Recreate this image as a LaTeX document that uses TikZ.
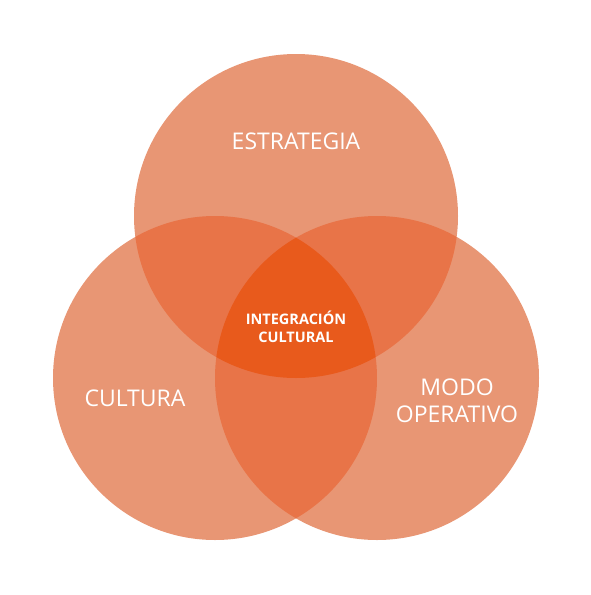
\documentclass[tikz,border=0pt]{standalone}
\usepackage{fontspec}
\setmainfont{Open Sans}
\definecolor{one}{RGB}{232,150,116}
\definecolor{two}{RGB}{232,116,72}
\definecolor{three}{RGB}{232,90,28}
\begin{document}
\begin{tikzpicture}[x=1pt,y=-1pt,
  lbl/.style={text=white,font=\fontsize{23}{27}\selectfont,align=center,inner sep=0pt},
  core/.style={text=white,font=\fontsize{14.5}{18}\selectfont\bfseries,align=center,inner sep=0pt}]
\useasboundingbox (0,0) rectangle (591,595);
\def\R{162}
\coordinate (T) at (296,216);
\coordinate (L) at (215,378);
\coordinate (Rt) at (377,378);
\fill[one] (T) circle (\R);
\fill[one] (L) circle (\R);
\fill[one] (Rt) circle (\R);
\begin{scope}\clip (T) circle (\R); \fill[two] (L) circle (\R); \fill[two] (Rt) circle (\R);\end{scope}
\begin{scope}\clip (L) circle (\R); \fill[two] (Rt) circle (\R);\end{scope}
\begin{scope}\clip (T) circle (\R); \clip (L) circle (\R); \fill[three] (Rt) circle (\R);\end{scope}
\node[lbl] (e) at (296,141) {ESTRATEGIA};
\node[lbl] (c) at (135,398) {CULTURA};
\node[lbl] (m) at (457,401) {MODO\\OPERATIVO};
\node[core] (i) at (296,327) {INTEGRACIÓN\\CULTURAL};
\end{tikzpicture}
\end{document}
